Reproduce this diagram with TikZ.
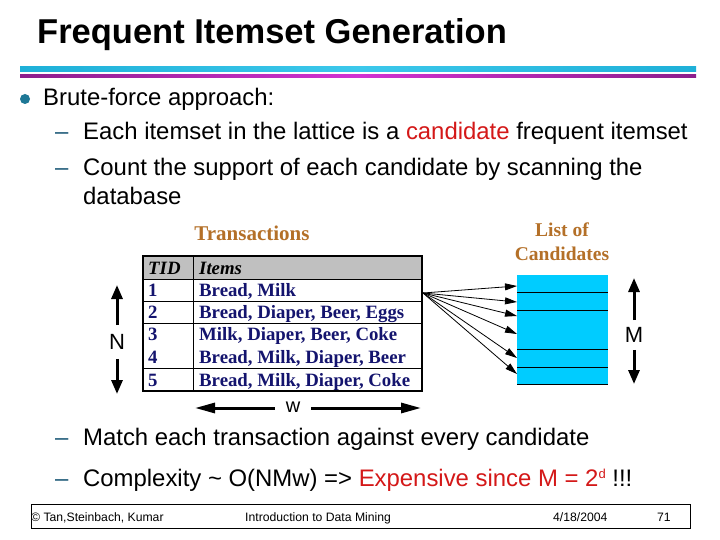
\documentclass[tikz,border=0pt]{standalone}
\usepackage{fontspec}
\setmainfont{Liberation Sans}
\newfontfamily\tabserif{Liberation Serif}
\usetikzlibrary{arrows.meta}
\definecolor{lcyan}{RGB}{30,176,216}
\definecolor{lcyanb}{RGB}{60,200,235}
\definecolor{lmag}{RGB}{140,30,140}
\definecolor{lmagb}{RGB}{210,50,210}
\definecolor{bullet}{RGB}{30,120,150}
\definecolor{dashc}{RGB}{30,90,120}
\definecolor{hired}{RGB}{212,24,24}
\definecolor{brownt}{RGB}{180,112,40}
\definecolor{navyt}{RGB}{20,20,110}
\definecolor{hdrgray}{RGB}{192,192,192}
\definecolor{candc}{RGB}{0,204,255}
\tikzset{
  txt/.style={anchor=base west, inner sep=0pt, font=\fontsize{23.9}{28}\selectfont},
  dashtxt/.style={anchor=base west, inner sep=0pt, text=dashc, font=\fontsize{23.9}{28}\selectfont},
  foot/.style={anchor=base west, inner sep=0pt, font=\fontsize{12.2}{14}\selectfont},
  cell/.style={anchor=base west, inner sep=0pt, text=navyt, font=\tabserif\bfseries\fontsize{18.8}{20}\selectfont},
  hcell/.style={anchor=base west, inner sep=0pt, text=black, font=\tabserif\bfseries\itshape\fontsize{18.8}{20}\selectfont},
  heading/.style={inner sep=0pt, text=brownt, font=\tabserif\bfseries\fontsize{19.5}{22}\selectfont},
  dimlabel/.style={inner sep=1pt, font=\fontsize{22}{24}\selectfont},
  fatarrow/.style={line width=3pt, -{Triangle[length=14pt,width=11pt]}},
  fanarrow/.style={line width=0.8pt, -{Triangle[length=12pt,width=7pt]}},
}
\begin{document}
\begin{tikzpicture}[x=1pt,y=-1pt]
\useasboundingbox[fill=white] (0,0) rectangle (720,540);

% title
\node[anchor=base west, inner sep=0pt, font=\fontsize{34.5}{40}\selectfont\bfseries] (title) at (37,44) {Frequent Itemset Generation};
\shade[left color=lcyan, right color=lcyan, middle color=lcyanb] (20,66.5) rectangle (696,72);
\shade[left color=lmag, right color=lmag, middle color=lmagb] (20,74.5) rectangle (696,78);

% bullets
\fill[bullet] (25,99) circle (5);
\node[txt] (b1) at (43,106) {Brute-force approach:};
\node[dashtxt] (d1) at (55,140) {–};
\node[txt] (s1) at (83,140) {Each itemset in the lattice is a \textcolor{hired}{candidate} frequent itemset};
\node[dashtxt] (d2) at (55,176) {–};
\node[txt] (s2) at (83,176) {Count the support of each candidate by scanning the};
\node[txt] (s2b) at (83,205) {database};

% headings
\node[heading, font=\tabserif\bfseries\fontsize{21}{22}\selectfont] (trans) at (252,233) {Transactions};
\node[heading] (listof) at (562,230) {List of};
\node[heading] (cands) at (562,254) {Candidates};

% table
\fill[hdrgray] (143,256) rectangle (422,279);
\draw[line width=0.9pt] (143,279) -- (422,279);
\draw[line width=0.9pt] (143,301) -- (422,301);
\draw[line width=0.9pt] (143,323) -- (422,323);
\draw[line width=0.9pt] (143,368) -- (422,368);
\draw[line width=0.9pt] (193,256) -- (193,391);
\draw[line width=1.6pt] (143,256) rectangle (422,391);
\node[hcell] (h1) at (148,274) {TID};
\node[hcell] (h2) at (199,274) {Items};
\node[cell] (t1) at (148,296) {1};
\node[cell] (i1) at (199,296) {Bread, Milk};
\node[cell] (t2) at (148,318) {2};
\node[cell] (i2) at (199,318) {Bread, Diaper, Beer, Eggs};
\node[cell] (t3) at (148,340) {3};
\node[cell] (i3) at (199,340) {Milk, Diaper, Beer, Coke};
\node[cell] (t4) at (148,363) {4};
\node[cell] (i4) at (199,363) {Bread, Milk, Diaper, Beer};
\node[cell] (t5) at (148,386) {5};
\node[cell] (i5) at (199,386) {Bread, Milk, Diaper, Coke};

% N arrow
\node[dimlabel] (N) at (117,342) {N};
\coordinate (Ntop) at (117,285);
\coordinate (Nbot) at (117,394);
\draw[fatarrow] (N.north) ++(0,-8) -- (Ntop);
\draw[fatarrow] (N.south) ++(0,8) -- (Nbot);

% w arrow
\node[dimlabel, font=\fontsize{20}{22}\selectfont] (w) at (293,407) {w};
\coordinate (wl) at (195,408);
\coordinate (wr) at (421,408);
\draw[fatarrow, -{Triangle[length=20pt,width=10pt]}] ([xshift=-10pt]w.west |- wl) -- (wl);
\draw[fatarrow, -{Triangle[length=20pt,width=10pt]}] ([xshift=10pt]w.east |- wr) -- (wr);

% candidates
\fill[candc] (517,275) rectangle (608,384);
\node[inner sep=0pt, minimum width=91pt, minimum height=109pt] (cand) at (562.5,329.5) {};
\foreach \yy in {292,310,349,367,384} \draw[line width=0.9pt] (517,\yy) -- (608,\yy);

% fan arrows
\coordinate (src) at (423,293);
\foreach \yy [count=\k] in {286,302,316,334,358,374} {
  \coordinate (tg\k) at (517,\yy);
  \draw[fanarrow] (src) -- (tg\k);
}

% M arrow
\node[dimlabel] (M) at (634,335) {M};
\coordinate (Mtop) at (634,278);
\coordinate (Mbot) at (634,384);
\draw[fatarrow] (M.north) ++(0,-6) -- (Mtop);
\draw[fatarrow] (M.south) ++(0,6) -- (Mbot);

% lower bullets
\node[dashtxt] (d3) at (55,445) {–};
\node[txt] (s3) at (83,445) {Match each transaction against every candidate};
\node[dashtxt] (d4) at (55,486) {–};
\node[txt] (s4) at (83,486) {Complexity \textasciitilde{} O(NMw) => \textcolor{hired}{Expensive since M = 2\raisebox{8pt}{\fontsize{13}{14}\selectfont d}} !!!};

% footer
\draw[line width=0.9pt] (31,504) rectangle (690,528);
\node[foot] (f1) at (31,521) {© Tan,Steinbach, Kumar};
\node[foot] (f2) at (245,521) {Introduction to Data Mining};
\node[foot] (f3) at (553,521) {4/18/2004};
\node[foot] (f4) at (657,521) {71};
\end{tikzpicture}
\end{document}
